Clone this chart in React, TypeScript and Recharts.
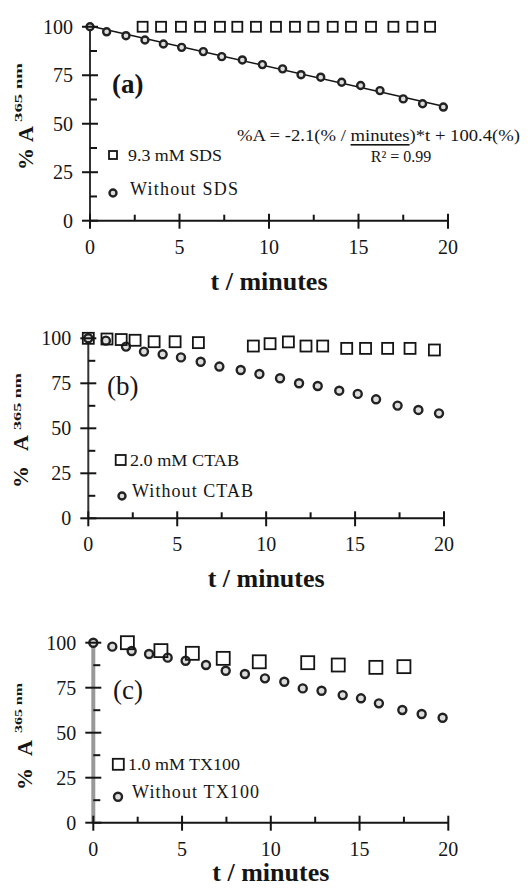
import React from 'react';
import { ComposedChart, Scatter, XAxis, YAxis } from 'recharts';

// ---------------- DATA ----------------
const xTicks = [0, 2.5, 5, 7.5, 10, 12.5, 15, 17.5, 20];
const yTicks = [0, 12.5, 25, 37.5, 50, 62.5, 75, 87.5, 100];

// Panel (a) – SDS
const aWithoutT = [0, 0.93, 2.01, 3.07, 4.1, 5.12, 6.33, 7.36, 8.51, 9.63, 10.76, 11.79, 12.89, 14.06, 15.12, 16.2, 17.5, 18.58, 19.74];
const aWithoutV = [100, 97.4, 95.4, 93.2, 91.1, 89.4, 87.2, 84.6, 82.9, 80.5, 78.3, 75.3, 74.0, 71.4, 69.7, 67.1, 62.8, 60.3, 58.6];
const aSdsT = [2.94, 3.97, 5.08, 6.15, 7.26, 8.23, 9.27, 10.39, 11.45, 12.48, 13.56, 14.58, 15.7, 16.95, 18.01, 19.0];
const aSdsV = [100, 100, 100, 100, 100, 100, 100, 100, 100, 100, 100, 100, 100, 100, 100, 100];
const aFitT = [0, 19.74];
const aFitV = [100.4, 59.0];

// Panel (b) – CTAB
const bWithoutT = [0, 0.99, 2.12, 3.13, 4.18, 5.21, 6.32, 7.37, 8.57, 9.62, 10.78, 11.85, 12.9, 14.11, 15.15, 16.18, 17.39, 18.56, 19.72];
const bWithoutV = [100, 98.7, 95.4, 92.6, 91.1, 89.4, 87.0, 84.3, 82.4, 80.2, 77.8, 75.0, 73.5, 70.9, 69.1, 66.1, 62.6, 60.2, 58.3];
const bCtabT = [0, 1.05, 1.85, 2.63, 3.7, 4.88, 6.19, 9.28, 10.22, 11.25, 12.24, 13.18, 14.53, 15.59, 16.83, 18.09, 19.46];
const bCtabV = [100, 99.6, 99.3, 98.9, 98.1, 98.1, 97.6, 95.7, 97.0, 98.0, 95.7, 95.7, 94.4, 94.4, 94.4, 94.4, 93.5];

// Panel (c) – TX100
const cWithoutT = [0, 1.07, 2.16, 3.14, 4.19, 5.2, 6.35, 7.46, 8.54, 9.67, 10.76, 11.8, 12.86, 14.05, 15.08, 16.09, 17.41, 18.5, 19.68];
const cWithoutV = [100, 97.8, 95.4, 93.7, 91.7, 90.0, 87.6, 84.4, 82.6, 80.2, 78.3, 74.6, 73.3, 70.9, 69.1, 66.3, 62.6, 60.4, 58.3];
const cTxT = [1.92, 3.81, 5.58, 7.32, 9.35, 12.08, 13.8, 15.92, 17.5];
const cTxV = [100, 95.6, 94.1, 91.3, 89.4, 88.9, 87.6, 86.3, 86.7];

const xTitle = 't / minutes';
const yTitleMain = '% A';
const yTitleSup = '365 nm';

const zip = (t: number[], v: number[]) => t.map((tt, i) => ({ t: tt, v: v[i] }));

// ---------------- STYLE ----------------
const FONT = "'Liberation Serif', 'Times New Roman', serif";
const INK = '#151515';

const XTick = (props: any) => {
  const { x, y, payload } = props;
  const v = payload.value;
  const major = v % 5 === 0;
  return (
    <g>
      {major ? (
        <line x1={x} x2={x} y1={y - 7} y2={y + 8} stroke={INK} strokeWidth={2} />
      ) : (
        <line x1={x} x2={x} y1={y - 6} y2={y} stroke={INK} strokeWidth={2} />
      )}
      {major && (
        <text x={x} y={y + 26} textAnchor="middle" dominantBaseline="central" fontFamily={FONT} fontSize={20} fill={INK}>
          {v}
        </text>
      )}
    </g>
  );
};

const YTick = (props: any) => {
  const { x, y, payload } = props;
  const v = payload.value;
  const major = v % 25 === 0;
  return (
    <g>
      {major ? (
        <line x1={x - 8} x2={x + 8} y1={y} y2={y} stroke={INK} strokeWidth={2} />
      ) : (
        <line x1={x} x2={x + 7} y1={y} y2={y} stroke={INK} strokeWidth={2} />
      )}
      {major && (
        <text x={x - 17} y={y} textAnchor="end" dominantBaseline="central" fontFamily={FONT} fontSize={20} fill={INK}>
          {v}
        </text>
      )}
    </g>
  );
};

const squareShape = (size: number) => (p: any) => {
  if (p.cx == null || p.cy == null) return <g />;
  return (
    <rect x={p.cx - size / 2} y={p.cy - size / 2} width={size} height={size} fill="none" stroke={INK} strokeWidth={1.8} />
  );
};
const circleShape = (r: number) => (p: any) => {
  if (p.cx == null || p.cy == null) return <g />;
  return <circle cx={p.cx} cy={p.cy} r={r} fill="#ddd" stroke="#222" strokeWidth={2.4} />;
};
const noShape = () => <g />;

type PanelProps = {
  top: number;
  height: number;
  marginTop: number;
  marginRight: number;
  yAxisWidth: number;
  xAxisHeight: number;
  yAxisColor: string;
  yAxisStroke: number;
  squares: { t: number; v: number }[];
  circles: { t: number; v: number }[];
  fit?: { t: number; v: number }[];
  sqSize: number;
  circR: number;
  label: string;
  labelPos: [number, number];
  labelBold?: boolean;
  titleDy: number;
  yLab: { main: [number, number, number]; sup: [number, number, number] };
  legend: {
    sqText: string;
    circText: string;
    sq: [number, number, number];
    sqTextPos: [number, number, number];
    circ: [number, number, number];
    circTextPos: [number, number, number];
  };
  extra?: React.ReactNode;
};

const Panel = (p: PanelProps) => {
  const W = 532;
  const plotLeft = p.yAxisWidth;
  const plotRight = W - p.marginRight;
  const plotBottom = p.height - p.xAxisHeight;
  const cx = (plotLeft + plotRight) / 2;
  return (
    <div style={{ position: 'absolute', left: 0, top: p.top, width: W, height: p.height }}>
      <ComposedChart
        width={W}
        height={p.height}
        margin={{ top: p.marginTop, right: p.marginRight, left: 0, bottom: 0 }}
      >
        <XAxis
          type="number"
          dataKey="t"
          domain={[0, 20]}
          ticks={xTicks}
          interval={0}
          tick={<XTick />}
          tickLine={false}
          tickSize={0}
          tickMargin={0}
          height={p.xAxisHeight}
          axisLine={{ stroke: INK, strokeWidth: 2 }}
        />
        <YAxis
          type="number"
          dataKey="v"
          domain={[0, 100]}
          ticks={yTicks}
          interval={0}
          tick={<YTick />}
          tickLine={false}
          tickSize={0}
          tickMargin={0}
          width={p.yAxisWidth}
          axisLine={{ stroke: p.yAxisColor, strokeWidth: p.yAxisStroke }}
        />
        {p.fit && (
          <Scatter
            data={p.fit}
            line={{ stroke: INK, strokeWidth: 1.5 }}
            shape={noShape}
            isAnimationActive={false}
          />
        )}
        <Scatter data={p.circles} shape={circleShape(p.circR)} isAnimationActive={false} />
        <Scatter data={p.squares} shape={squareShape(p.sqSize)} isAnimationActive={false} />
      </ComposedChart>
      <svg
        width={W}
        height={p.height}
        style={{ position: 'absolute', left: 0, top: 0, pointerEvents: 'none' }}
        fontFamily={FONT}
        fill={INK}
      >
        {/* y-axis title */}
        <text
          transform={`translate(${p.yLab.main[0]},${p.yLab.main[1]}) rotate(-90)`}
          fontSize={22}
          fontWeight="bold"
          textLength={p.yLab.main[2]}
          lengthAdjust="spacing"
        >
          {yTitleMain}
        </text>
        <text
          transform={`translate(${p.yLab.sup[0]},${p.yLab.sup[1]}) rotate(-90)`}
          fontSize={11}
          fontWeight="bold"
          textLength={p.yLab.sup[2]}
          lengthAdjust="spacingAndGlyphs"
        >
          {yTitleSup}
        </text>
        {/* x-axis title */}
        <text x={cx} y={plotBottom + p.titleDy} textAnchor="middle" dominantBaseline="central" fontSize={26} fontWeight="bold">
          {xTitle}
        </text>
        {/* panel label */}
        <text
          x={p.labelPos[0]}
          y={p.labelPos[1]}
          dominantBaseline="central"
          fontSize={27}
          fontWeight={p.labelBold ? 'bold' : 'normal'}
        >
          {p.label}
        </text>
        {/* legend */}
        <rect
          x={p.legend.sq[0] - p.legend.sq[2] / 2}
          y={p.legend.sq[1] - p.legend.sq[2] / 2}
          width={p.legend.sq[2]}
          height={p.legend.sq[2]}
          fill="none"
          stroke={INK}
          strokeWidth={1.8}
        />
        <text
          x={p.legend.sqTextPos[0]}
          y={p.legend.sqTextPos[1]}
          dominantBaseline="central"
          fontSize={17}
          textLength={p.legend.sqTextPos[2]}
          lengthAdjust="spacingAndGlyphs"
        >
          {p.legend.sqText}
        </text>
        <circle cx={p.legend.circ[0]} cy={p.legend.circ[1]} r={p.legend.circ[2]} fill="#ddd" stroke="#222" strokeWidth={2.4} />
        <text
          x={p.legend.circTextPos[0]}
          y={p.legend.circTextPos[1]}
          dominantBaseline="central"
          fontSize={18}
          textLength={p.legend.circTextPos[2]}
          lengthAdjust="spacing"
        >
          {p.legend.circText}
        </text>
        {p.extra}
      </svg>
    </div>
  );
};

export default function App() {
  return (
    <div style={{ position: 'absolute', left: 0, top: 0, width: 532, height: 891, background: '#fff' }}>
      <Panel
        top={0}
        height={300}
        marginTop={26}
        marginRight={84}
        yAxisWidth={90}
        xAxisHeight={79.3}
        yAxisColor="#333"
        yAxisStroke={2}
        squares={zip(aSdsT, aSdsV)}
        circles={zip(aWithoutT, aWithoutV)}
        fit={zip(aFitT, aFitV)}
        sqSize={10}
        circR={3.5}
        label="(a)"
        labelPos={[112, 84]}
        labelBold
        titleDy={61}
        yLab={{ main: [33, 170, 44], sup: [22, 122, 59] }}
        legend={{
          sqText: '9.3 mM SDS',
          circText: 'Without  SDS',
          sq: [113, 155, 8],
          sqTextPos: [128, 155.5, 94],
          circ: [113, 193, 3.5],
          circTextPos: [130, 189, 108],
        }}
        extra={
          <g>
            <text x={237} y={135} dominantBaseline="central" fontSize={16} textLength={283} lengthAdjust="spacingAndGlyphs">
              {'%A = -2.1(% / '}
              <tspan textDecoration="underline">minutes</tspan>
              {')*t + 100.4(%)'}
            </text>
            <text x={401} y={156} textAnchor="middle" dominantBaseline="central" fontSize={16}>
              R² = 0.99
            </text>
          </g>
        }
      />
      <Panel
        top={300}
        height={300}
        marginTop={38.3}
        marginRight={88}
        yAxisWidth={88.3}
        xAxisHeight={81.7}
        yAxisColor="#333"
        yAxisStroke={2}
        squares={zip(bCtabT, bCtabV)}
        circles={zip(bWithoutT, bWithoutV)}
        sqSize={11}
        circR={4}
        label="(b)"
        labelPos={[107, 86]}
        titleDy={60}
        yLab={{ main: [28, 188, 53], sup: [21, 130, 57] }}
        legend={{
          sqText: '2.0 mM CTAB',
          circText: 'Without  CTAB',
          sq: [120.7, 160, 10],
          sqTextPos: [130, 160, 109],
          circ: [122, 196, 3.5],
          circTextPos: [132, 190.7, 121],
        }}
      />
      <Panel
        top={600}
        height={291}
        marginTop={42.7}
        marginRight={83.7}
        yAxisWidth={93.3}
        xAxisHeight={68.3}
        yAxisColor="#999"
        yAxisStroke={4}
        squares={zip(cTxT, cTxV)}
        circles={zip(cWithoutT, cWithoutV)}
        sqSize={13}
        circR={4}
        label="(c)"
        labelPos={[113, 90]}
        titleDy={50}
        yLab={{ main: [32, 190, 50], sup: [22, 133, 50] }}
        legend={{
          sqText: '1.0 mM TX100',
          circText: 'Without  TX100',
          sq: [118.3, 164.3, 11],
          sqTextPos: [128, 164, 112],
          circ: [118, 196.7, 4],
          circTextPos: [132, 191.7, 127],
        }}
      />
    </div>
  );
}
